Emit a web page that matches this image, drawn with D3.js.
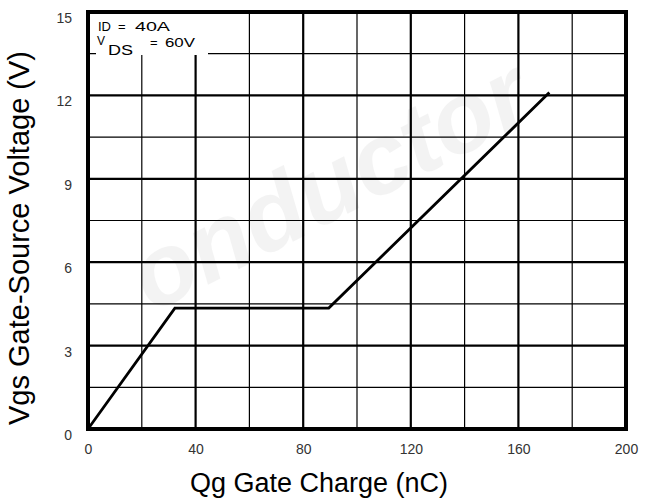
<!DOCTYPE html>
<html>
<head>
<meta charset="utf-8">
<script src="https://cdn.jsdelivr.net/npm/d3@7"></script>
<style>
  body { margin: 0; background: #fff; }
  text { font-family: "Liberation Sans", Arial, sans-serif; }
</style>
</head>
<body>
<div id="chart"></div>
<script>
// gate charge curve
const qg = [0, 32.3, 89.5, 171.5];
const vgs = [0, 4.35, 4.35, 12.1];

const xTicks = [0, 40, 80, 120, 160, 200];
const yTicks = [0, 3, 6, 9, 12, 15];
const xGrid = [20, 40, 60, 80, 100, 120, 140, 160, 180];
const yGrid = [1.5, 3, 4.5, 6, 7.5, 9, 10.5, 12, 13.5];

const width = 658;
const height = 499;
const margin = { top: 12, right: 32, bottom: 70, left: 88 };

const svg = d3.select("#chart").append("svg")
  .attr("width", width)
  .attr("height", height);

const x = d3.scaleLinear()
  .domain([0, 200])
  .range([margin.left, width - margin.right]);

const y = d3.scaleLinear()
  .domain([0, 15])
  .range([height - margin.bottom, margin.top]);

// faint watermark behind everything
svg.append("text")
  .attr("transform", "translate(345,215) rotate(-27)")
  .attr("text-anchor", "middle")
  .style("font-size", "100px")
  .style("font-weight", "bold")
  .style("font-style", "italic")
  .style("fill", "#000")
  .style("opacity", 0.045)
  .text("onductor");

// grid
svg.append("g")
  .selectAll("line")
  .data(xGrid)
  .enter()
  .append("line")
  .attr("x1", d => x(d))
  .attr("x2", d => x(d))
  .attr("y1", y(15))
  .attr("y2", y(0))
  .attr("stroke", "#000")
  .attr("stroke-width", d => d % 40 === 0 ? 2.2 : 1.2);

svg.append("g")
  .selectAll("line")
  .data(yGrid)
  .enter()
  .append("line")
  .attr("x1", x(0))
  .attr("x2", x(200))
  .attr("y1", d => y(d))
  .attr("y2", d => y(d))
  .attr("stroke", "#000")
  .attr("stroke-width", d => d % 3 === 0 ? 2.2 : 1.2);

// white patch behind the conditions text
svg.append("rect")
  .attr("x", x(0) + 8)
  .attr("y", y(15))
  .attr("width", 112)
  .attr("height", 43)
  .attr("fill", "#fff");

// the curve
const line = d3.line()
  .x((d, i) => x(qg[i]))
  .y(d => y(d));

svg.append("path")
  .datum(vgs)
  .attr("fill", "none")
  .attr("stroke", "#000")
  .attr("stroke-width", 2.8)
  .attr("stroke-linejoin", "miter")
  .attr("d", line);

// frame
svg.append("rect")
  .attr("x", x(0))
  .attr("y", y(15))
  .attr("width", x(200) - x(0))
  .attr("height", y(0) - y(15))
  .attr("fill", "none")
  .attr("stroke", "#000")
  .attr("stroke-width", 4);

// tick labels
const xAxis = svg.append("g")
  .attr("transform", `translate(0, ${y(0)})`)
  .call(d3.axisBottom(x).tickValues(xTicks).tickSize(0).tickPadding(15));
xAxis.select(".domain").remove();
xAxis.selectAll("text")
  .style("font-size", "14px")
  .style("fill", "#333");

const yAxis = svg.append("g")
  .attr("transform", `translate(${x(0)}, 0)`)
  .call(d3.axisLeft(y).tickValues(yTicks).tickSize(0).tickPadding(16));
yAxis.select(".domain").remove();
yAxis.selectAll("text")
  .attr("dy", "0.75em")
  .style("font-size", "14px")
  .style("fill", "#333");

// conditions (glyphs in the source are drawn wide)
const id = svg.append("text")
  .attr("y", 31)
  .style("font-size", "13px");
id.append("tspan").attr("x", 98).text("ID");
id.append("tspan").attr("x", 118).text("=");
id.append("tspan").attr("x", 135)
  .attr("textLength", 35).attr("lengthAdjust", "spacingAndGlyphs").text("40A");

const vds = svg.append("text")
  .attr("x", 97)
  .attr("y", 45)
  .style("font-size", "12px");
vds.append("tspan").text("V");
vds.append("tspan").attr("x", 108).attr("y", 55)
  .attr("textLength", 25).attr("lengthAdjust", "spacingAndGlyphs")
  .style("font-size", "14px").text("DS");
vds.append("tspan").attr("x", 150).attr("y", 47).style("font-size", "13px").text("=");
vds.append("tspan").attr("x", 165).attr("y", 47)
  .attr("textLength", 30).attr("lengthAdjust", "spacingAndGlyphs")
  .style("font-size", "13px").text("60V");

// axis titles
svg.append("text")
  .attr("x", 319)
  .attr("y", 492)
  .attr("text-anchor", "middle")
  .style("font-size", "27px")
  .text("Qg Gate Charge (nC)");

svg.append("text")
  .attr("transform", "translate(29, 238) rotate(-90)")
  .attr("text-anchor", "middle")
  .style("font-size", "29px")
  .text("Vgs Gate-Source Voltage (V)");
</script>
</body>
</html>
